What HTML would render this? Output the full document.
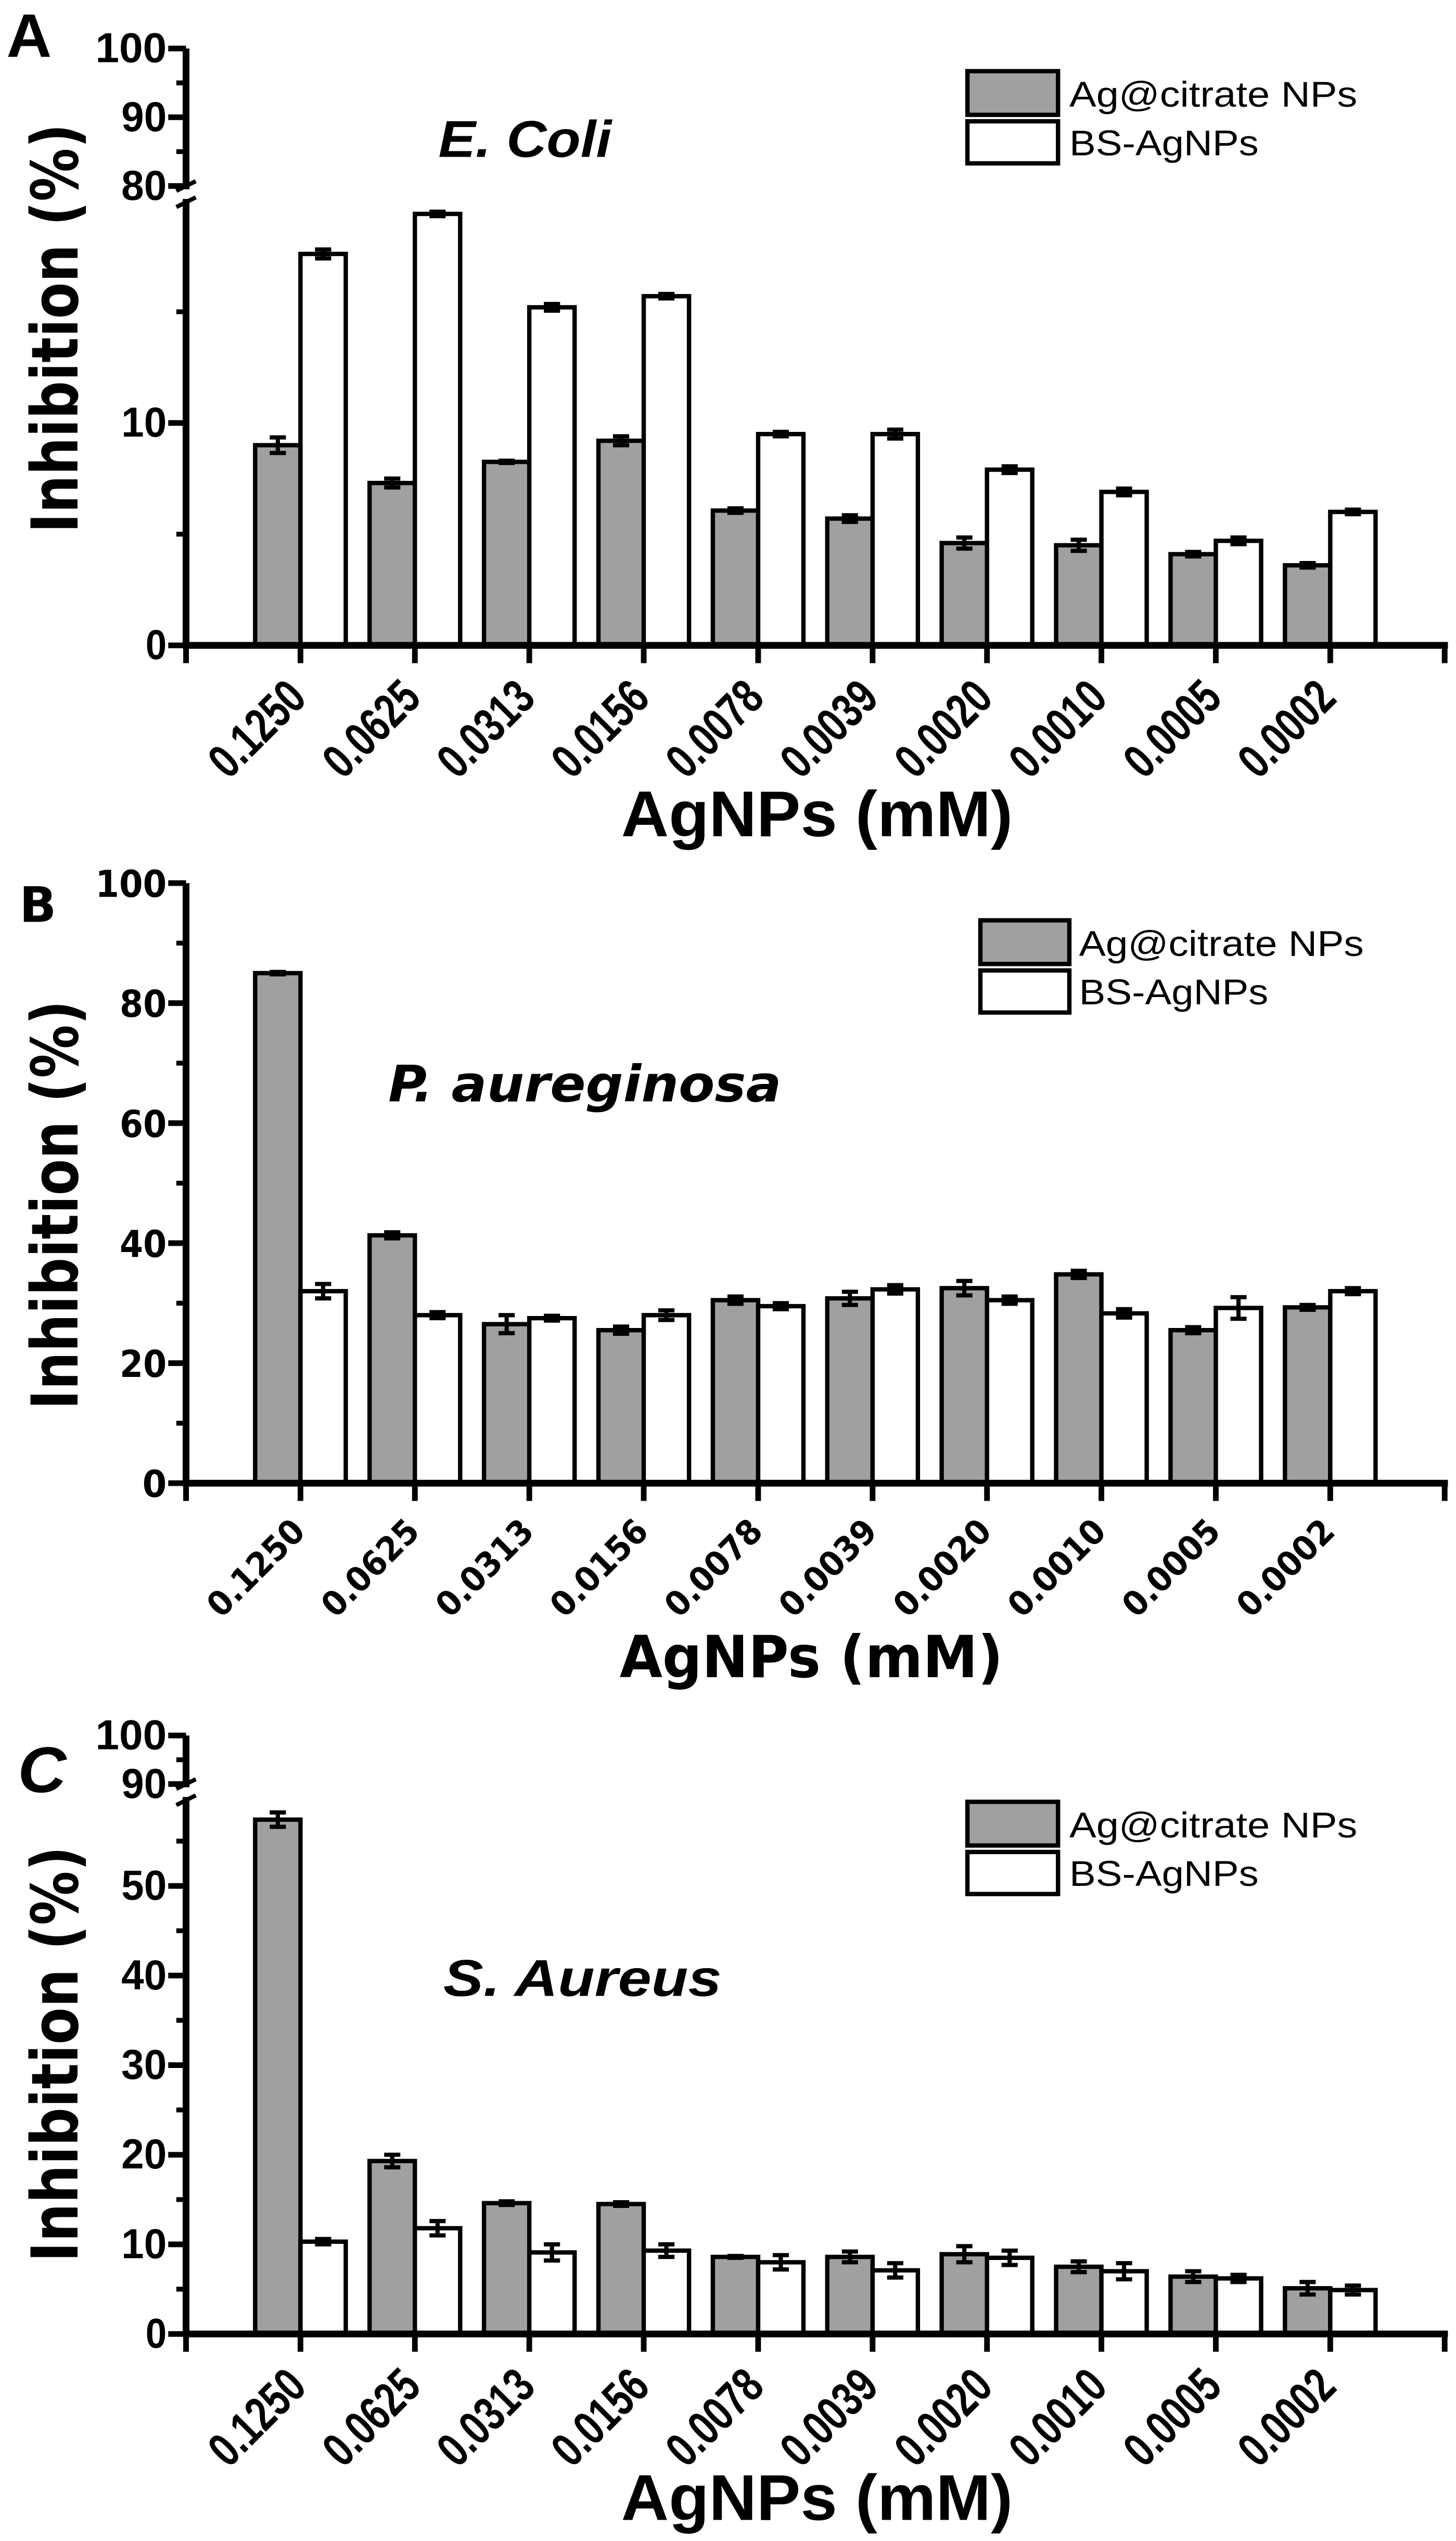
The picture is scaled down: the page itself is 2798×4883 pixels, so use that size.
<!DOCTYPE html>
<html><head><meta charset="utf-8"><style>
html,body{margin:0;padding:0;background:#fff;}
svg{display:block;}
</style></head><body>
<svg id="fig" width="2798" height="4883" viewBox="0 0 900 1571" preserveAspectRatio="none" xmlns="http://www.w3.org/2000/svg">
<rect x="0" y="0" width="900" height="1571" fill="#fff"/>
<text x="4" y="35" font-family="Liberation Sans, sans-serif" font-weight="bold" font-size="38" textLength="28" lengthAdjust="spacingAndGlyphs">A</text>
<text x="12" y="570" font-family="DejaVu Sans, sans-serif" font-weight="bold" font-size="30">B</text>
<text x="11" y="1108" font-family="Liberation Sans, sans-serif" font-weight="bold" font-style="italic" font-size="40" textLength="30" lengthAdjust="spacingAndGlyphs">C</text>
<text transform="translate(48,203) rotate(-90)" text-anchor="middle" font-family="DejaVu Sans, sans-serif" font-weight="bold" font-size="40" textLength="253" lengthAdjust="spacingAndGlyphs">Inhibition (%)</text>
<text transform="translate(48,745) rotate(-90)" text-anchor="middle" font-family="DejaVu Sans, sans-serif" font-weight="bold" font-size="40" textLength="253" lengthAdjust="spacingAndGlyphs">Inhibition (%)</text>
<text transform="translate(48,1270) rotate(-90)" text-anchor="middle" font-family="DejaVu Sans, sans-serif" font-weight="bold" font-size="40" textLength="257" lengthAdjust="spacingAndGlyphs">Inhibition (%)</text>
<text x="384" y="517" font-family="Liberation Sans, sans-serif" font-weight="bold" font-size="40" textLength="242" lengthAdjust="spacingAndGlyphs">AgNPs (mM)</text>
<text x="383" y="1037" font-family="DejaVu Sans, sans-serif" font-weight="bold" font-size="36" textLength="237" lengthAdjust="spacingAndGlyphs">AgNPs (mM)</text>
<text x="384" y="1558" font-family="Liberation Sans, sans-serif" font-weight="bold" font-size="40" textLength="242" lengthAdjust="spacingAndGlyphs">AgNPs (mM)</text>
<text x="271" y="97" font-family="Liberation Sans, sans-serif" font-weight="bold" font-style="italic" font-size="32" textLength="107" lengthAdjust="spacingAndGlyphs">E. Coli</text>
<text x="240" y="681" font-family="DejaVu Sans, sans-serif" font-weight="bold" font-style="italic" font-size="31" textLength="243" lengthAdjust="spacingAndGlyphs">P. aureginosa</text>
<text x="274" y="1234" font-family="Liberation Sans, sans-serif" font-weight="bold" font-style="italic" font-size="32" textLength="172" lengthAdjust="spacingAndGlyphs">S. Aureus</text>
<g>
<rect x="598" y="44" width="56" height="27" fill="#a0a0a0" stroke="#000" stroke-width="2.7"/>
<rect x="598" y="75" width="56" height="26" fill="#fff" stroke="#000" stroke-width="2.7"/>
<text x="661" y="66" font-family="Liberation Sans, sans-serif" font-size="22" textLength="178" lengthAdjust="spacingAndGlyphs">Ag@citrate NPs</text>
<text x="661" y="96" font-family="Liberation Sans, sans-serif" font-size="22" textLength="117" lengthAdjust="spacingAndGlyphs">BS-AgNPs</text>
</g>
<g>
<rect x="606" y="569" width="55" height="27" fill="#a0a0a0" stroke="#000" stroke-width="2.7"/>
<rect x="606" y="600" width="55" height="26" fill="#fff" stroke="#000" stroke-width="2.7"/>
<text x="667" y="591" font-family="Liberation Sans, sans-serif" font-size="22" textLength="176" lengthAdjust="spacingAndGlyphs">Ag@citrate NPs</text>
<text x="667" y="621" font-family="Liberation Sans, sans-serif" font-size="22" textLength="117" lengthAdjust="spacingAndGlyphs">BS-AgNPs</text>
</g>
<g>
<rect x="598" y="1114" width="56" height="27" fill="#a0a0a0" stroke="#000" stroke-width="2.7"/>
<rect x="598" y="1145" width="56" height="26" fill="#fff" stroke="#000" stroke-width="2.7"/>
<text x="661" y="1136" font-family="Liberation Sans, sans-serif" font-size="22" textLength="178" lengthAdjust="spacingAndGlyphs">Ag@citrate NPs</text>
<text x="661" y="1166" font-family="Liberation Sans, sans-serif" font-size="22" textLength="117" lengthAdjust="spacingAndGlyphs">BS-AgNPs</text>
</g>
<g id="plots"></g>
</svg>
<script>
const categories = ["0.1250","0.0625","0.0313","0.0156","0.0078","0.0039","0.0020","0.0010","0.0005","0.0002"];
const aCitrate = [9.0,7.3,8.25,9.2,6.06,5.7,4.6,4.5,4.1,3.6];
const aCitrateErr = [0.35,0.2,0.05,0.2,0.1,0.15,0.25,0.25,0.1,0.1];
const aBS = [17.6,19.4,15.2,15.7,9.5,9.5,7.9,6.9,4.7,6.0];
const aBSErr = [0.2,0.1,0.15,0.1,0.1,0.2,0.15,0.15,0.15,0.1];
const bCitrate = [85,41.3,26.5,25.5,30.5,30.8,32.5,34.8,25.5,29.3];
const bCitrateErr = [0.2,0.5,1.5,0.6,0.6,1.1,1.2,0.6,0.5,0.4];
const bBS = [32,28,27.5,28,29.5,32.3,30.5,28.3,29.2,32];
const bBSErr = [1.2,0.5,0.4,0.8,0.5,0.7,0.6,0.7,1.8,0.5];
const cCitrate = [57.4,19.3,14.6,14.5,8.6,8.6,8.9,7.5,6.4,5.1];
const cCitrateErr = [0.8,0.7,0.2,0.2,0.1,0.6,0.9,0.6,0.6,0.7];
const cBS = [10.3,11.8,9.1,9.3,8.0,7.1,8.5,7.0,6.2,4.9];
const cBSErr = [0.3,0.8,0.9,0.7,0.8,0.8,0.8,0.9,0.4,0.5];
const aTicksMajor = [0,10,80,90,100];
const aTicksMinor = [5,15,85,95];
const bTicksMajor = [0,20,40,60,80,100];
const bTicksMinor = [10,30,50,70,90];
const cTicksMajor = [0,10,20,30,40,50,90,100];
const cTicksMinor = [5,15,25,35,45,55,95];

const NS = "http://www.w3.org/2000/svg";
const root = document.getElementById('plots');
function mk(tag, attrs, parent){
  const e = document.createElementNS(NS, tag);
  for (const k in attrs) e.setAttribute(k, attrs[k]);
  (parent||root).appendChild(e);
  return e;
}
const AX0 = 115, AXEND = 893, SLOT = (893-115)/11, BW = 28;
function xTick(i){ return AX0 + SLOT*(i+1); }

const panels = [
 {id:'a', y:v => v<=20 ? 399 - v*13.75 : 115 - (v-80)*4.25, base:399, top:30, brk:[117,123],
  cit:aCitrate, citE:aCitrateErr, bs:aBS, bsE:aBSErr, maj:aTicksMajor, min:aTicksMinor,
  tf:"Liberation Sans, sans-serif", tfs:26, tlen:{1:13,2:28,3:44}, xf:"Liberation Sans, sans-serif", xfs:30, xlen:70, xoff:[5,34]},
 {id:'b', y:v => 917 - v*3.71, base:917, top:546, brk:null,
  cit:bCitrate, citE:bCitrateErr, bs:bBS, bsE:bBSErr, maj:bTicksMajor, min:bTicksMinor,
  tf:"DejaVu Sans, sans-serif", tfs:23, tlen:{1:15,2:29,3:44}, xf:"DejaVu Sans, sans-serif", xfs:21, xlen:75, xoff:[4,31]},
 {id:'c', y:v => v<=60 ? 1443 - v*5.54 : 1103 - (v-90)*3.0, base:1443, top:1073, brk:[1105,1111],
  cit:cCitrate, citE:cCitrateErr, bs:cBS, bsE:cBSErr, maj:cTicksMajor, min:cTicksMinor,
  tf:"Liberation Sans, sans-serif", tfs:26, tlen:{1:13,2:28,3:44}, xf:"Liberation Sans, sans-serif", xfs:30, xlen:70, xoff:[5,34]}
];

panels.forEach(p => {
  const g = mk('g', {});
  
  
  categories.forEach((c, i) => {
    const xt = xTick(i);
    const yc = p.y(p.cit[i]);
    const r1 = mk('rect', {x:xt-BW, y:yc, width:BW, height:p.base-yc, fill:'#a0a0a0', stroke:'#000', 'stroke-width':2.7}, g);
    
    
    const yb = p.y(p.bs[i]);
    const r2 = mk('rect', {x:xt, y:yb, width:BW, height:p.base-yb, fill:'#fff', stroke:'#000', 'stroke-width':2.7}, g);
    
    
    [[xt-BW/2, p.cit[i], p.citE[i], 'citrate'], [xt+BW/2, p.bs[i], p.bsE[i], 'bs']].forEach(([cx, v, e, s]) => {
      const y1 = p.y(v+e), y2 = p.y(v-e);
      const eb = mk('path', {d:`M${cx},${y1}V${y2}M${cx-5},${y1}H${cx+5}M${cx-5},${y2}H${cx+5}`, stroke:'#000', 'stroke-width':2.6, fill:'none'}, g);
      
      
    });
  });
  const ya = mk('line', {x1:AX0, y1:p.base+2, x2:AX0, y2:p.top, stroke:'#000', 'stroke-width':4.2}, g);
  
  
  if (p.brk) {
    const br = mk('rect', {x:AX0-4, y:p.brk[0], width:8, height:p.brk[1]-p.brk[0], fill:'#fff'}, g);
    
    
    const bm = mk('path', {d:`M${AX0-6},${p.brk[0]+1}L${AX0+6},${p.brk[0]-5}M${AX0-6},${p.brk[1]+5}L${AX0+6},${p.brk[1]-1}`, stroke:'#000', 'stroke-width':2.6}, g);
    
    
  }
  p.maj.forEach(v => {
    const yy = p.y(v);
    const t = mk('line', {x1:AX0-11, y1:yy, x2:AX0, y2:yy, stroke:'#000', 'stroke-width':3.5}, g);
    
    
    const s = String(v);
    const tx = mk('text', {x:103, y:yy+8.5, 'text-anchor':'end', 'font-family':p.tf, 'font-weight':'bold', 'font-size':p.tfs, textLength:p.tlen[s.length], lengthAdjust:'spacingAndGlyphs'}, g);
    tx.textContent = s;
    
    
  });
  p.min.forEach(v => {
    const yy = p.y(v);
    const t = mk('line', {x1:AX0-6, y1:yy, x2:AX0, y2:yy, stroke:'#000', 'stroke-width':3}, g);
    
    
  });
  const xa = mk('line', {x1:AX0-2, y1:p.base, x2:AXEND+2, y2:p.base, stroke:'#000', 'stroke-width':4.2}, g);
  
  
  [AX0, AXEND].forEach((xx, k) => {
    const t = mk('line', {x1:xx, y1:p.base, x2:xx, y2:p.base+11, stroke:'#000', 'stroke-width':3.5}, g);
    
    
  });
  categories.forEach((c, i) => {
    const xt = xTick(i);
    const t = mk('line', {x1:xt, y1:p.base, x2:xt, y2:p.base+11, stroke:'#000', 'stroke-width':3.5}, g);
    
    
    const ax = xt + p.xoff[0], ay = p.base + p.xoff[1];
    const tx = mk('text', {x:ax, y:ay, transform:`rotate(-45 ${ax} ${ay})`, 'text-anchor':'end', 'font-family':p.xf, 'font-weight':'bold', 'font-size':p.xfs, textLength:p.xlen, lengthAdjust:'spacingAndGlyphs'}, g);
    tx.textContent = c;
    
    
  });
});
</script>
</body></html>
